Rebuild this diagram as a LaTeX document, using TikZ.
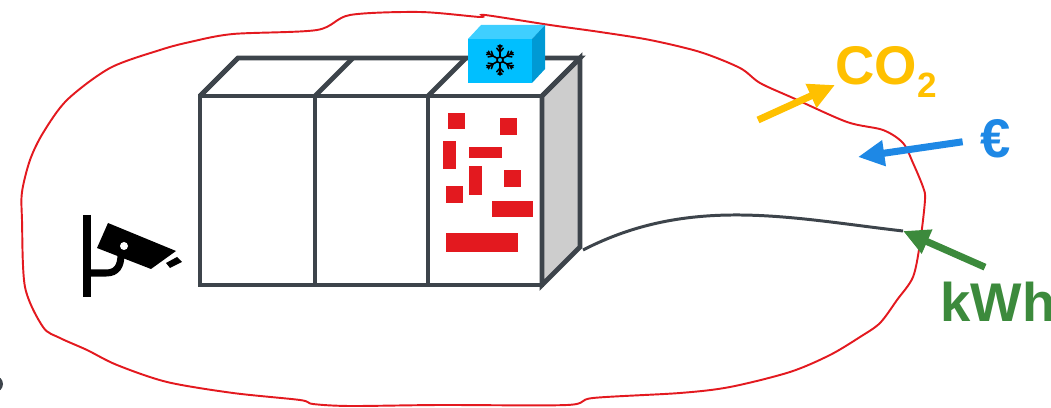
\documentclass[tikz,border=0pt]{standalone}
\usepackage{fontspec}
\setmainfont{Liberation Sans}
\usetikzlibrary{arrows.meta}

\definecolor{rackgray}{HTML}{3D444B}
\definecolor{sidegray}{HTML}{CDCDCD}
\definecolor{zonered}{HTML}{E3191F}
\definecolor{icefront}{HTML}{00BFFF}
\definecolor{icetop}{HTML}{3FCFFF}
\definecolor{iceside}{HTML}{0099D4}
\definecolor{co2orange}{HTML}{FFC000}
\definecolor{eurblue}{HTML}{1E88E5}
\definecolor{kwhgreen}{HTML}{3C8A3C}

\tikzset{
    rack/.style={draw=rackgray, line width=2.8pt},
    flow/.style={line width=4pt, -{Triangle[length=15pt,width=14pt]}},
    tag/.style={font=\bfseries\fontsize{31}{31}\selectfont, inner sep=0pt},
}

\begin{document}
\begin{tikzpicture}[x=0.02cm, y=-0.02cm]
    \useasboundingbox (0,0) rectangle (1051,408);

    % System boundary
    \draw[zonered, line width=1.1pt] plot[smooth cycle, tension=0.5] coordinates {
        (22,220) (22,192) (30,160) (43,133) (67,100) (110,68) (160,50) (190,42)
        (233,34) (317,30) (350,15) (420,12) (480,17) (485,15) (550,25) (600,32)
        (650,40) (700,52) (740,68) (760,83) (793,98) (847,122) (883,130) (903,143)
        (913,163) (923,187) (925,200) (920,243) (913,277) (897,300) (880,323)
        (860,337) (830,355) (790,372) (730,387) (680,393) (593,398) (567,405)
        (440,405) (350,406) (313,404) (300,400) (233,393) (167,382) (117,365)
        (87,350) (60,338) (43,327) (25,287)};

    % Rack: side panel, top, front cells
    \filldraw[rack, fill=sidegray] (542,96) -- (580,58) -- (580,247) -- (542,285) -- cycle;
    \draw[rack] (200,96) -- (238,58) -- (580,58) -- (542,96);
    \foreach \x in {200,315,428}
        \draw[rack] (\x,96) -- (\x+38,58);
    \foreach \x/\w in {200/115,315/113,428/114}
        \draw[rack] (\x,96) rectangle (\x+\w,285);

    % Cooling unit on top
    \fill[icetop] (468,39) -- (481,25) -- (545,25) -- (532,39) -- cycle;
    \fill[iceside] (532,39) -- (545,25) -- (545,69) -- (532,83) -- cycle;
    \fill[icefront] (468,39) rectangle (532,83);
    \begin{scope}[shift={(500,60)}, line width=0.9pt, line cap=round]
        \draw (0,0) circle (3);
        \foreach \a in {30,90,...,330} {
            \draw (\a:3) -- (\a:15);
            \draw (\a:8) -- ++(\a+40:5) (\a:8) -- ++(\a-40:5);
            \draw (\a:12) -- ++(\a+40:3) (\a:12) -- ++(\a-40:3);
        }
    \end{scope}

    % Hot spots on the front
    \foreach \x/\y/\w/\h in {448/113/17/16, 500/118/17/17, 443/141/13/28,
                             469/147/33/11, 469/166/13/29, 504/170/17/17,
                             446/186/17/17, 492/201/41/16, 446/233/72/19}
        \fill[zonered] (\x,\y) rectangle ++(\w,\h);

    % Camera
    \draw[line width=4.5pt] (87,215) -- (87,297);
    \draw[line width=4pt] (87,273) -- (106,273) .. controls (117,273) and (121,266) .. (121,254);
    \fill (108,223) -- (176,251) -- (151,269) -- (97,248) -- cycle;
    \fill (166,263) -- (177,257) -- (182,262) -- (170,268) -- cycle;
    \fill[white] (124,246) circle (4);

    % small cut off mark
    \fill[rackgray] (-5,384) circle (8);

    % Cable to the grid
    \coordinate (plug) at (903,231);
    \draw[rackgray, line width=1.7pt] (583,250) .. controls (690,195) and (790,218) .. (plug);

    % Flows across the boundary
    \node[tag, text=co2orange, anchor=base west] (co2) at (835,85)
        {CO\raisebox{-7pt}{\fontsize{20}{20}\selectfont 2}};
    \node[tag, text=eurblue, anchor=base west] (euro) at (980,158) {€};
    \node[tag, text=kwhgreen, anchor=base west] (kwh) at (940,322) {kWh};

    \coordinate (co2src) at (758,120);
    \coordinate (eurdst) at (858,157);
    \draw[flow, co2orange] (co2src) -- (co2.base west);
    \draw[flow, eurblue, shorten <=10pt] (euro.west) -- (eurdst);
    \draw[flow, kwhgreen] ([shift={(45,-15)}]kwh.north west) -- (plug);
\end{tikzpicture}
\end{document}
